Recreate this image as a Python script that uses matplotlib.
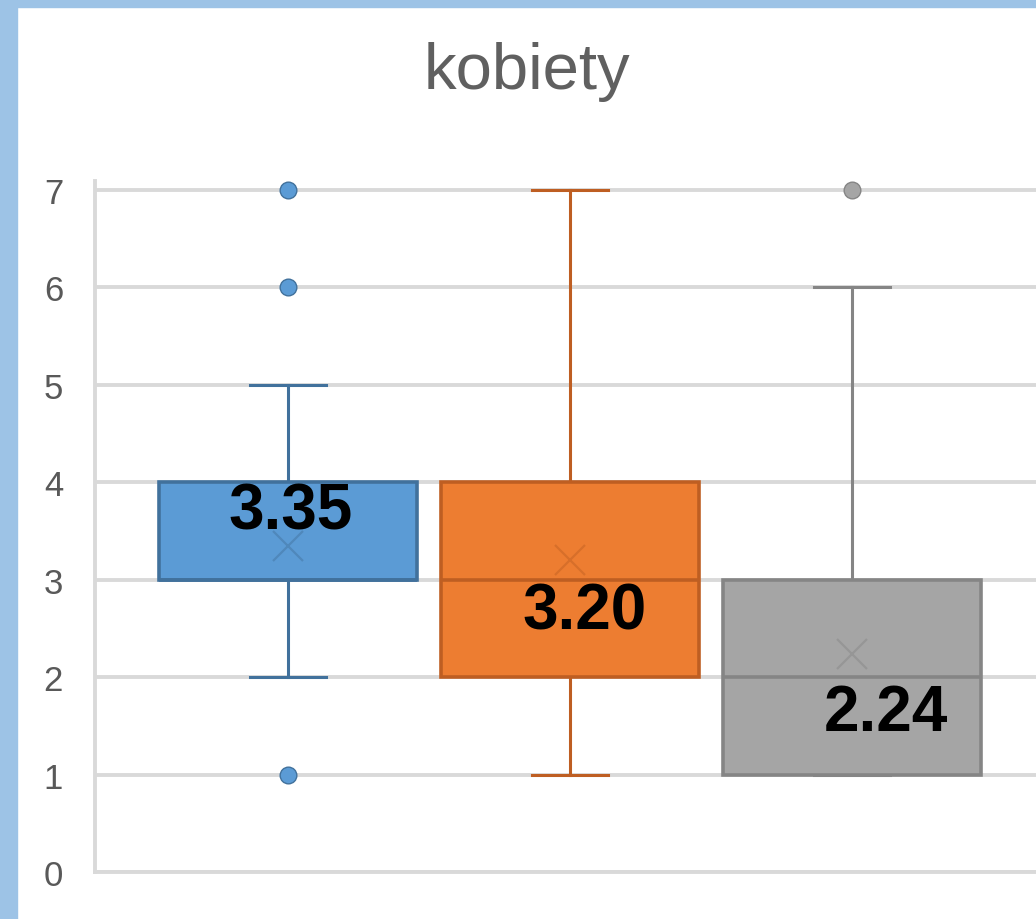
import matplotlib
matplotlib.use("Agg")
from matplotlib import pyplot as plt
from matplotlib.patches import Rectangle

# box statistics
q1 = [3, 2, 1]
medians = [3, 3, 2]
q3 = [4, 4, 3]
whis_low = [2, 1, 1]
whis_high = [5, 7, 6]
means = [3.35, 3.20, 2.24]
fliers = [[7, 6, 1], [], [7]]
mean_labels = ["3.35", "3.20", "2.24"]

fills = ["#5B9BD5", "#ED7D31", "#A5A5A5"]
edges = ["#41719C", "#BE5E22", "#858585"]

plt.rcParams['font.family'] = ['Liberation Sans', 'DejaVu Sans']

fig = plt.figure(figsize=(10.36, 9.2), dpi=100)
# light blue frame at the left and top
fig.patches.append(Rectangle((0, 0), 17 / 1036, 1, transform=fig.transFigure,
                             color="#9DC3E6", zorder=-5))
fig.patches.append(Rectangle((0, 1 - 8 / 920), 1, 8 / 920, transform=fig.transFigure,
                             color="#9DC3E6", zorder=-5))

ax = fig.add_axes([95 / 1036, 47 / 920, 1 - 95 / 1036, (873 - 182) / 920])

stats = []
for i in range(3):
    stats.append(dict(q1=q1[i], med=medians[i], q3=q3[i], whislo=whis_low[i],
                      whishi=whis_high[i], mean=means[i], fliers=fliers[i], label=""))

pos = [1, 2, 3]
bp = ax.bxp(stats, positions=pos, widths=0.915, capwidths=0.27, patch_artist=True,
            showmeans=True, manage_ticks=False)

for i in range(3):
    bp['boxes'][i].set(facecolor=fills[i], edgecolor=edges[i], linewidth=2.6, zorder=3)
    bp['medians'][i].set(color=edges[i], linewidth=2.6, zorder=4)
    for w in bp['whiskers'][2 * i:2 * i + 2]:
        w.set(color=edges[i], linewidth=2.2, zorder=2)
    for c in bp['caps'][2 * i:2 * i + 2]:
        c.set(color=edges[i], linewidth=2.2, zorder=2)
    bp['fliers'][i].set(marker='o', markerfacecolor=fills[i], markeredgecolor=edges[i],
                        markersize=12, markeredgewidth=1, zorder=5)
    bp['means'][i].set(marker='x', markeredgecolor=edges[i], markersize=22,
                       markeredgewidth=1.6, alpha=0.45, zorder=5)

# data labels with the mean value
label_dx = [0.01, 0.05, 0.12]
label_y = [3.7, 2.67, 1.63]
for i in range(3):
    ax.text(pos[i] + label_dx[i], label_y[i], mean_labels[i], ha='center', va='center',
            fontsize=46, fontweight='bold', color='black', zorder=6)

ax.set_xlim(0.316, 3.652)
ax.set_ylim(0, 7.09)
ax.set_yticks(range(0, 8))
ax.set_xticks([])
ax.grid(axis='y', color='#D9D9D9', linewidth=2.8, zorder=0)
ax.set_axisbelow(True)
for s in ['top', 'right']:
    ax.spines[s].set_visible(False)
for s in ['left', 'bottom']:
    ax.spines[s].set_color('#D9D9D9')
    ax.spines[s].set_linewidth(2.8)
ax.tick_params(axis='y', length=0, pad=23, labelsize=25, labelcolor='#595959')

fig.text(527 / 1036, 1 - 72 / 920, "kobiety", ha='center', va='center',
         fontsize=47, color='#606060')

fig.savefig("out.png", dpi=100, facecolor='white')
